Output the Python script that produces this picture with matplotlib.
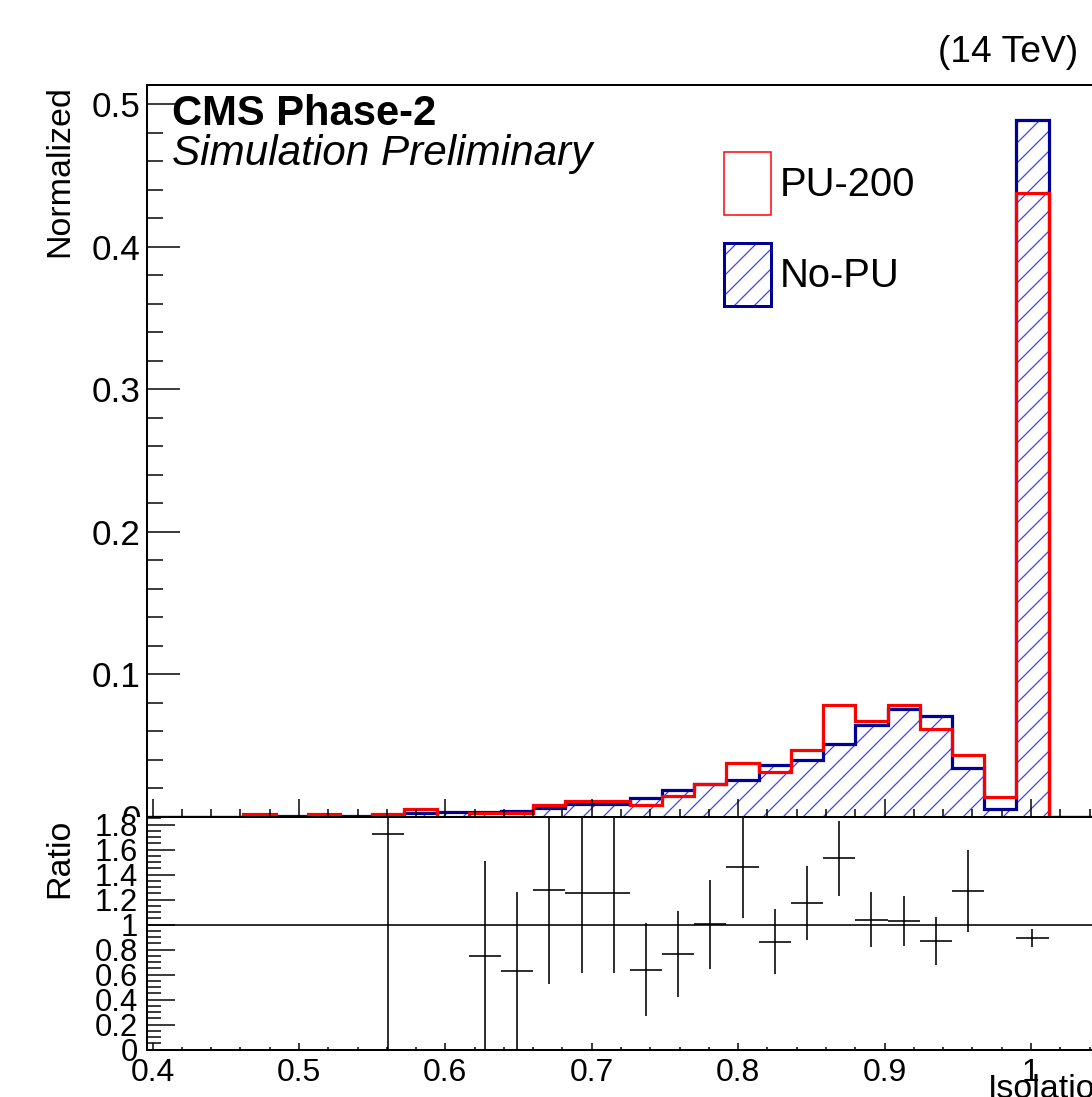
import numpy as np
import matplotlib
matplotlib.use('Agg')
import matplotlib.pyplot as plt
from matplotlib.patches import Patch
from matplotlib.ticker import MultipleLocator
from matplotlib.transforms import Bbox, TransformedBbox

# Isolation distributions, PU-200 vs No-PU (normalized), 0.022 wide bins
bin_edges = np.linspace(0.396, 1.1, 33)
pu200 = [0, 0, 0, 0.0021, 0, 0.0020, 0, 0.0021, 0.0055, 0,
         0.0024, 0.0026, 0.0082, 0.0112, 0.0112, 0.0084, 0.0142, 0.0227,
         0.0375, 0.0316, 0.0465, 0.0785, 0.0670, 0.0782, 0.0612, 0.0432,
         0.0140, 0.4377, 0, 0, 0, 0]
nopu = [0, 0, 0, 0.0005, 0.0007, 0.0007, 0.0008, 0.0012, 0.0029, 0.0030,
        0.0032, 0.0042, 0.0064, 0.0089, 0.0089, 0.0131, 0.0185, 0.0226,
        0.0256, 0.0366, 0.0396, 0.0513, 0.0645, 0.0758, 0.0704, 0.0340,
        0.0056, 0.4890, 0, 0, 0, 0]

# ratio PU-200 / No-PU (only the points that land inside the pad)
ratio_x = [0.561, 0.627, 0.649, 0.671, 0.693, 0.715, 0.737, 0.759, 0.781,
           0.803, 0.825, 0.847, 0.869, 0.891, 0.913, 0.935, 0.957, 1.001]
ratio_y = [1.726, 0.750, 0.627, 1.278, 1.256, 1.256, 0.640, 0.766, 1.003,
           1.464, 0.864, 1.174, 1.531, 1.040, 1.032, 0.870, 1.270, 0.896]
ratio_err = [1.75, 0.757, 0.632, 0.752, 0.640, 0.640, 0.370, 0.344, 0.357,
             0.410, 0.260, 0.296, 0.300, 0.220, 0.200, 0.190, 0.330, 0.072]
bin_half = 0.011

xticks = [0.4, 0.5, 0.6, 0.7, 0.8, 0.9, 1.0, 1.1]
xtick_labels = ['0.4', '0.5', '0.6', '0.7', '0.8', '0.9', '1', '1.1']
yticks = [0, 0.1, 0.2, 0.3, 0.4, 0.5]
ytick_labels = ['0', '0.1', '0.2', '0.3', '0.4', '0.5']
rticks = [0, 0.2, 0.4, 0.6, 0.8, 1.0, 1.2, 1.4, 1.6, 1.8]
rtick_labels = ['0', '0.2', '0.4', '0.6', '0.8', '1', '1.2', '1.4', '1.6', '1.8']

DPI = 120
W, H = 1092, 1097


def px(v):
    # pixels -> points
    return v * 72.0 / DPI


RED = '#ff0000'
NAVY = '#000099'
HATCH = '#3a3aff'

plt.rcParams['font.family'] = ['Liberation Sans', 'DejaVu Sans']
plt.rcParams['hatch.linewidth'] = px(1.2)

fig = plt.figure(figsize=(W / DPI, H / DPI), dpi=DPI)

left, right = 146.7, 1177.4
top, mid, bottom = 85.0, 816.7, 1049.7
ax = fig.add_axes([left / W, 1 - mid / H, (right - left) / W, (mid - top) / H])
rax = fig.add_axes([left / W, 1 - bottom / H, (right - left) / W, (bottom - mid) / H])

# main pad
ax.stairs(nopu, bin_edges, fill=True, hatch='//', facecolor='none',
          edgecolor=HATCH, linewidth=0, baseline=0)
ax.stairs(nopu, bin_edges, color=NAVY, linewidth=px(3.2), baseline=0)
ax.stairs(pu200, bin_edges, color=RED, linewidth=px(3.2), baseline=0)
ax.set_xlim(0.396, 1.1)
ax.set_ylim(0, 0.5135)
ax.set_xticks(xticks)
ax.set_xticklabels([])
ax.xaxis.set_minor_locator(MultipleLocator(0.02))
ax.set_yticks(yticks)
ax.set_yticklabels(ytick_labels)
ax.yaxis.set_minor_locator(MultipleLocator(0.02))
ax.tick_params(axis='x', which='major', direction='in', length=px(18), width=px(1.5))
ax.tick_params(axis='x', which='minor', direction='in', length=px(8), width=px(1.5))
ax.tick_params(axis='y', which='major', direction='in', length=px(33), width=px(1.5),
               labelsize=px(35), pad=px(6))
ax.tick_params(axis='y', which='minor', direction='in', length=px(16), width=px(1.5))
for s in ax.spines.values():
    s.set_linewidth(px(2))

# the ratio pad hides the lower half of the main "0" label
upper = TransformedBbox(Bbox([[0, 1 - mid / H], [1, 1]]), fig.transFigure)
zero_lbl = ax.yaxis.get_major_ticks()[0].label1
zero_lbl.set_clip_box(upper)
zero_lbl.set_clip_on(True)

# ratio pad
rax.axhline(1.0, color='black', linewidth=px(1.6))
rax.errorbar(ratio_x, ratio_y, xerr=bin_half, yerr=ratio_err, fmt='none',
             ecolor='black', elinewidth=px(1.6), capsize=0)
rax.set_xlim(0.396, 1.1)
rax.set_ylim(0, 1.864)
rax.set_xticks(xticks)
rax.set_xticklabels(xtick_labels)
rax.xaxis.set_minor_locator(MultipleLocator(0.02))
rax.set_yticks(rticks)
rax.set_yticklabels(rtick_labels)
rax.yaxis.set_minor_locator(MultipleLocator(0.05))
rax.tick_params(axis='x', which='major', direction='in', length=px(7), width=px(1.5),
                labelsize=px(32), pad=px(8))
rax.tick_params(axis='x', which='minor', direction='in', length=px(3), width=px(1.5))
rax.tick_params(axis='y', which='major', direction='in', length=px(28), width=px(1.5),
                labelsize=px(31), pad=px(9))
rax.tick_params(axis='y', which='minor', direction='in', length=px(14), width=px(1.5))
for s in rax.spines.values():
    s.set_linewidth(px(2))

# legend (tall ROOT-style boxes)
h_pu = Patch(facecolor='white', edgecolor=RED, linewidth=px(1.5))
h_no = (Patch(facecolor='white', edgecolor=HATCH, hatch='//', linewidth=0),
        Patch(facecolor='none', edgecolor=NAVY, linewidth=px(3)))
fs = 40.0
box_h = 63.0 / fs
leg = ax.legend([h_pu, h_no], ['PU-200', 'No-PU'], loc='upper left',
                bbox_to_anchor=(724 / W, 1 - 152 / H), bbox_transform=fig.transFigure,
                frameon=False, fontsize=px(fs), borderpad=0, borderaxespad=0,
                handlelength=47 / fs, handleheight=(box_h - 0.245) / 0.65,
                handletextpad=9 / fs, labelspacing=28 / fs)

# texts
fig.text(172 / W, 1 - 125 / H, 'CMS Phase-2', fontsize=px(41.7), fontweight='bold',
         ha='left', va='baseline')
fig.text(172 / W, 1 - 165 / H, 'Simulation Preliminary', fontsize=px(42.2),
         fontstyle='italic', ha='left', va='baseline')
fig.text(1078 / W, 1 - 62 / H, '(14 TeV)', fontsize=px(37.3), ha='right', va='baseline')
fig.text(60 / W, 1 - 85 / H, 'Normalized', fontsize=px(34), rotation=90,
         ha='center', va='top')
fig.text(60 / W, 1 - 819 / H, 'Ratio', fontsize=px(34), rotation=90,
         ha='center', va='top')
fig.text(988 / W, 1 - 1074 / H, 'Isolation', fontsize=px(34), ha='left', va='top')

fig.savefig('out.png', dpi=DPI)
